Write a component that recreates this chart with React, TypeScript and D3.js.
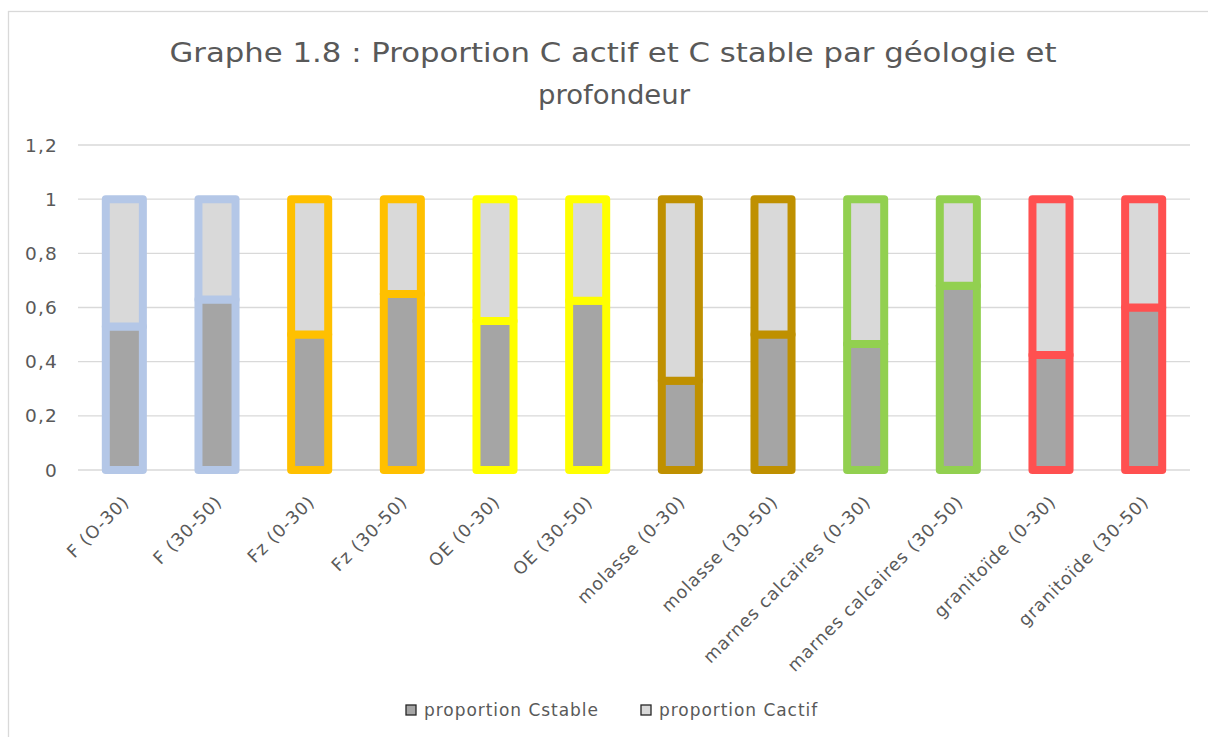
import React from "react";
import * as d3 from "d3";

const categories = [
  "F (O-30)",
  "F (30-50)",
  "Fz (0-30)",
  "Fz (30-50)",
  "OE (0-30)",
  "OE (30-50)",
  "molasse (0-30)",
  "molasse (30-50)",
  "marnes calcaires (0-30)",
  "marnes calcaires (30-50)",
  "granitoïde (0-30)",
  "granitoïde (30-50)",
];
const cStable = [0.53, 0.63, 0.5, 0.65, 0.55, 0.625, 0.33, 0.5, 0.465, 0.68, 0.425, 0.6];
const cActif = [0.47, 0.37, 0.5, 0.35, 0.45, 0.375, 0.67, 0.5, 0.535, 0.32, 0.575, 0.4];
const borderColors = [
  "#B4C7E7", "#B4C7E7",
  "#FFC000", "#FFC000",
  "#FFFF00", "#FFFF00",
  "#BF9000", "#BF9000",
  "#92D050", "#92D050",
  "#FF5050", "#FF5050",
];
const yTicks = [0, 0.2, 0.4, 0.6, 0.8, 1, 1.2];
const seriesNames = ["proportion Cstable", "proportion Cactif"];
const seriesFills = ["#A5A5A5", "#D9D9D9"];
const titleLines = ["Graphe 1.8 : Proportion C actif et C stable par géologie et", "profondeur"];

const W = 1208;
const H = 737;
const FONT = "'DejaVu Sans', sans-serif";
const TXT = "#595959";

export default function App() {
  const x = d3
    .scaleBand<string>()
    .domain(categories)
    .range([78, 1190])
    .paddingInner(0.6)
    .paddingOuter(0.3);
  const y = d3.scaleLinear().domain([0, 1.2]).range([470, 145]);
  const fmt = (v: number) => d3.format(".1~f")(v).replace(".", ",");
  const bw = x.bandwidth();

  return (
    <svg
      width={W}
      height={H}
      style={{ position: "absolute", left: 0, top: 0, background: "#fff" }}
      fontFamily={FONT}
    >
      <rect x={0} y={0} width={W} height={H} fill="#fff" />
      <rect x={8.5} y={11.5} width={W + 20} height={H + 20} fill="none" stroke="#D9D9D9" strokeWidth={1.3} />

      {/* title */}
      <text x={613} y={62} textAnchor="middle" fontSize={26} fill={TXT} textLength={887} lengthAdjust="spacingAndGlyphs">
        {titleLines[0]}
      </text>
      <text x={614} y={104} textAnchor="middle" fontSize={26} fill={TXT} textLength={152} lengthAdjust="spacingAndGlyphs">
        {titleLines[1]}
      </text>

      {/* grid */}
      {yTicks.map((t) => (
        <g key={t}>
          <line x1={78} x2={1190} y1={y(t)} y2={y(t)} stroke="#D9D9D9" strokeWidth={1.3} />
          <text x={58} y={y(t)} dy="0.36em" textAnchor="end" fontSize={18.5} letterSpacing={1.2} fill={TXT}>
            {fmt(t)}
          </text>
        </g>
      ))}

      {/* bars */}
      {categories.map((c, i) => {
        const x0 = x(c) as number;
        const s = cStable[i];
        const a = cActif[i];
        return (
          <g key={c} stroke={borderColors[i]} strokeWidth={8} strokeLinejoin="round">
            <rect x={x0} y={y(s)} width={bw} height={y(0) - y(s)} fill={seriesFills[0]} />
            <rect x={x0} y={y(s + a)} width={bw} height={y(s) - y(s + a)} fill={seriesFills[1]} />
          </g>
        );
      })}

      {/* x labels */}
      {categories.map((c) => {
        const cx = (x(c) as number) + bw / 2;
        return (
          <text
            key={c}
            transform={`translate(${cx + 6},${503}) rotate(-45)`}
            textAnchor="end"
            fontSize={17.5}
            letterSpacing={0.9}
            fill={TXT}
          >
            {c}
          </text>
        );
      })}

      {/* legend */}
      {seriesNames.map((n, i) => {
        const lx = i === 0 ? 406 : 641;
        return (
          <g key={n}>
            <rect x={lx} y={705} width={10} height={10} fill={seriesFills[i]} stroke="#262626" strokeWidth={1.3} />
            <text x={lx + 18} y={710} dy="0.36em" fontSize={17} letterSpacing={0.95} fill={TXT}>
              {n}
            </text>
          </g>
        );
      })}
    </svg>
  );
}
